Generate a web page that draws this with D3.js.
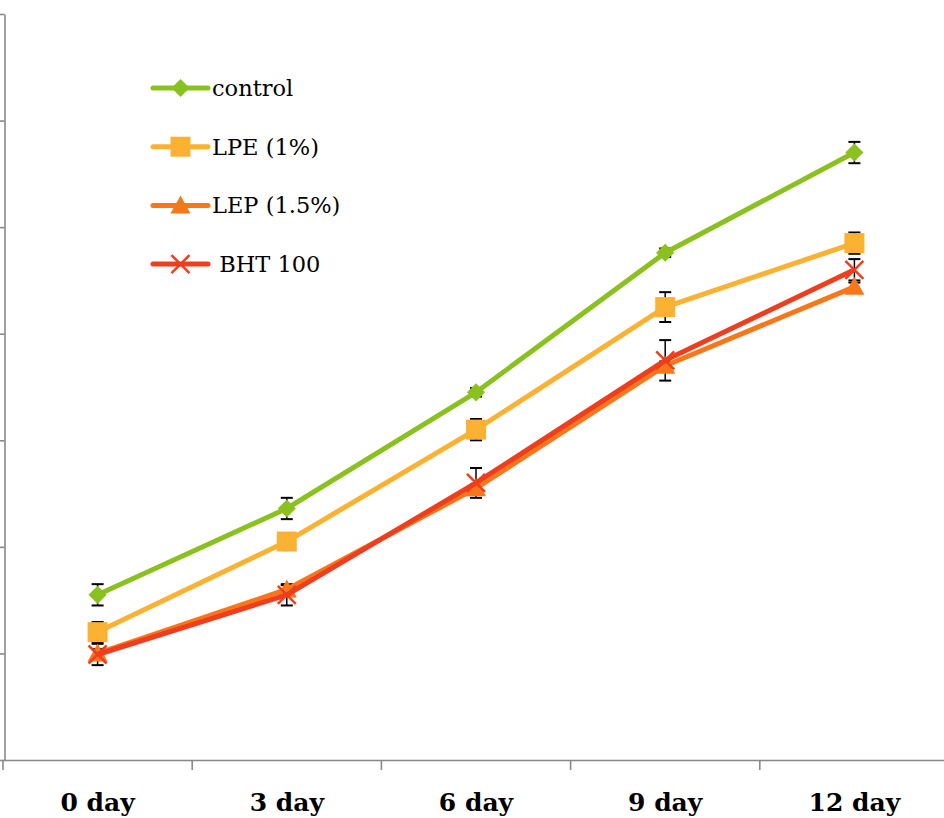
<!DOCTYPE html>
<html>
<head>
<meta charset="utf-8">
<script src="https://cdn.jsdelivr.net/npm/d3@7"></script>
<style>
  html, body { margin: 0; padding: 0; background: #fff; }
  svg { display: block; }
</style>
</head>
<body>
<svg id="chart" width="944" height="818"></svg>
<script>
// Storage days
const categories = ["0 day", "3 day", "6 day", "9 day", "12 day"];

// Series means
const seriesNames = ["control", "LPE (1%)", "LEP (1.5%)", " BHT 100"];
const controlValues = [1.55, 2.36, 3.45, 4.76, 5.70];
const lpeValues     = [1.20, 2.05, 3.10, 4.25, 4.85];
const lepValues     = [1.00, 1.60, 2.55, 3.70, 4.44];
const bhtValues     = [0.99, 1.55, 2.60, 3.75, 4.60];

// Standard deviations
const controlErr = [0.10, 0.10, 0.04, 0.04, 0.10];
const lpeErr     = [0.095, 0.05, 0.10, 0.14, 0.10];
const lepErr     = [0.04, 0.04, 0.04, 0.04, 0.04];
const bhtErr     = [0.10, 0.10, 0.14, 0.19, 0.10];

// Y axis ticks (labels lie outside the visible area)
const yTicks = [0, 1, 2, 3, 4, 5, 6, 7];

const colors = ["#8BC11F", "#FBB131", "#F8771A", "#EF3E1D"];
const markers = ["diamond", "square", "triangle", "cross"];

const series = [
  { name: seriesNames[0], values: controlValues, err: controlErr },
  { name: seriesNames[1], values: lpeValues, err: lpeErr },
  { name: seriesNames[2], values: lepValues, err: lepErr },
  { name: seriesNames[3], values: bhtValues, err: bhtErr }
].map((s, i) => ({ ...s, color: colors[i], marker: markers[i] }));

const svg = d3.select("#chart");

const x = d3.scaleBand().domain(categories).range([3, 949]);
const y = d3.scaleLinear().domain([0, 7]).range([760, 14]);
const cx = c => x(c) + x.bandwidth() / 2;

// Y axis
const yAxis = svg.append("g")
  .attr("transform", `translate(${x.range()[0] + 1.5},0)`)
  .call(d3.axisLeft(y).tickValues(yTicks).tickSize(5).tickSizeOuter(0).tickFormat(""));
yAxis.selectAll("path, line").attr("stroke", "#898989").attr("stroke-width", 1.6);

// X axis with labels centered in each band
const xAxis = svg.append("g")
  .attr("transform", `translate(0,${y(0)})`)
  .call(d3.axisBottom(x).tickSize(0).tickSizeOuter(0).tickPadding(33));
xAxis.select(".domain").attr("stroke", "#898989").attr("stroke-width", 1.6);
xAxis.selectAll("text")
  .attr("font-family", "'DejaVu Serif', serif")
  .attr("font-weight", "bold")
  .attr("font-size", 25)
  .attr("fill", "#000");

// Category boundary tick marks
xAxis.selectAll(".bound")
  .data(categories)
  .enter().append("line")
  .attr("class", "bound")
  .attr("x1", d => x(d)).attr("x2", d => x(d))
  .attr("y1", 0).attr("y2", 10)
  .attr("stroke", "#898989").attr("stroke-width", 1.6);

// Marker drawing helper
function drawMarker(g, type, color) {
  if (type === "diamond") {
    g.append("path")
      .attr("d", d3.symbol().type(d3.symbolSquare).size(165)())
      .attr("transform", "rotate(45)")
      .attr("fill", color);
  } else if (type === "square") {
    g.append("path")
      .attr("d", d3.symbol().type(d3.symbolSquare).size(400)())
      .attr("fill", color);
  } else if (type === "triangle") {
    g.append("path")
      .attr("d", "M0,-10L10,8L-10,8Z")
      .attr("fill", color);
  } else {
    g.append("path")
      .attr("d", "M-9,-9L9,9M-9,9L9,-9")
      .attr("stroke", color)
      .attr("stroke-width", 2.5)
      .attr("fill", "none");
  }
}

// Error bars (under the lines)
const errG = svg.append("g");
series.forEach(s => {
  categories.forEach((c, i) => {
    const px = cx(c);
    const y1 = y(s.values[i] + s.err[i]);
    const y2 = y(s.values[i] - s.err[i]);
    errG.append("line")
      .attr("x1", px).attr("x2", px).attr("y1", y1).attr("y2", y2)
      .attr("stroke", "#000").attr("stroke-width", 1.5);
    [y1, y2].forEach(yy => errG.append("line")
      .attr("x1", px - 6).attr("x2", px + 6).attr("y1", yy).attr("y2", yy)
      .attr("stroke", "#000").attr("stroke-width", 2));
  });
});

// Lines and markers
const line = d3.line().x((d, i) => cx(categories[i])).y(d => y(d));
series.forEach(s => {
  const g = svg.append("g");
  g.append("path")
    .datum(s.values)
    .attr("d", line)
    .attr("fill", "none")
    .attr("stroke", s.color)
    .attr("stroke-width", 5)
    .attr("stroke-linejoin", "round");
  s.values.forEach((v, i) => {
    const m = g.append("g").attr("transform", `translate(${cx(categories[i])},${y(v)})`);
    drawMarker(m, s.marker, s.color);
  });
});

// Legend
const legend = svg.append("g");
series.forEach((s, i) => {
  const ly = 88 + i * 58.7;
  const item = legend.append("g").attr("transform", `translate(0,${ly})`);
  item.append("line")
    .attr("x1", 153).attr("x2", 208).attr("y1", 0).attr("y2", 0)
    .attr("stroke", s.color).attr("stroke-width", 5).attr("stroke-linecap", "round");
  const m = item.append("g").attr("transform", "translate(180.5,0)");
  drawMarker(m, s.marker, s.color);
  item.append("text")
    .attr("x", 212).attr("y", 8)
    .attr("font-family", "'DejaVu Serif', serif")
    .attr("font-size", 22.5)
    .attr("fill", "#000")
    .style("white-space", "pre")
    .text(s.name);
});
</script>
</body>
</html>
